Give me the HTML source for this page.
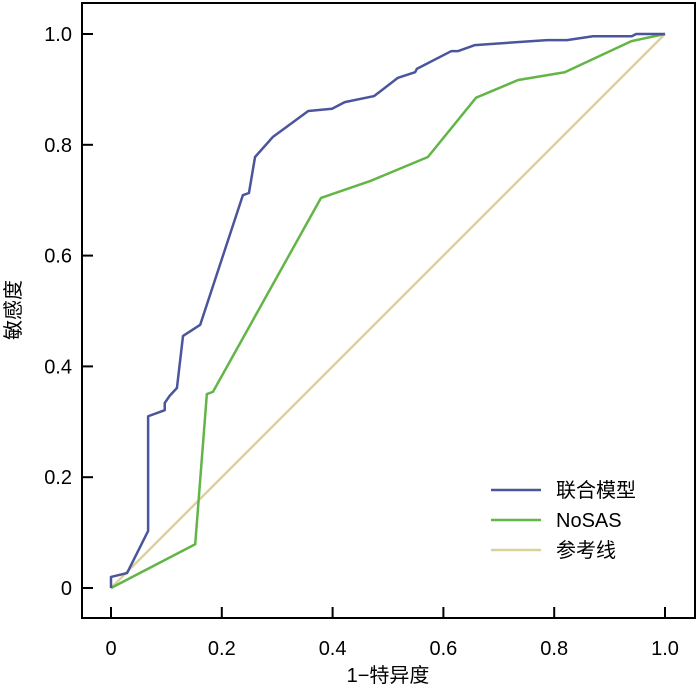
<!DOCTYPE html>
<html><head><meta charset="utf-8"><style>
html,body{margin:0;padding:0;background:#fff;}
svg text{font-family:"Liberation Sans","Noto Sans CJK SC",sans-serif;fill:#000;}
</style></head><body>
<svg id="chart" width="700" height="690" viewBox="0 0 700 690" xmlns="http://www.w3.org/2000/svg">
<rect x="82" y="3" width="613" height="615" fill="none" stroke="#000" stroke-width="2"/>
<g id="axes"></g>
<g id="series"></g>
<text x="388" y="682" font-size="20" text-anchor="middle">1−特异度</text>
<text x="0" y="0" font-size="20" text-anchor="middle" transform="translate(20,310) rotate(-90)">敏感度</text>
<g>
<line x1="491" y1="490" x2="541" y2="490" stroke="#4b559b" stroke-width="2.5"/>
<text x="556" y="497" font-size="20">联合模型</text>
<line x1="491" y1="520" x2="541" y2="520" stroke="#62b546" stroke-width="2.5"/>
<text x="556" y="527" font-size="20">NoSAS</text>
<line x1="491" y1="550" x2="541" y2="550" stroke="#dbd29a" stroke-width="2.5"/>
<text x="556" y="557" font-size="20">参考线</text>
</g>
</svg>
<script>
const xTicks=[0,0.2,0.4,0.6,0.8,1.0];
const xTickLabels=["0","0.2","0.4","0.6","0.8","1.0"];
const yTicks=[0,0.2,0.4,0.6,0.8,1.0];
const yTickLabels=["0","0.2","0.4","0.6","0.8","1.0"];
const combinedFpr=[0,0,0.029,0.067,0.067,0.097,0.097,0.106,0.119,0.13,0.161,0.238,0.249,0.26,0.292,0.356,0.399,0.422,0.475,0.518,0.549,0.552,0.614,0.626,0.657,0.787,0.823,0.87,0.94,0.948,1];
const combinedTpr=[0,0.02,0.027,0.103,0.31,0.321,0.334,0.347,0.361,0.455,0.475,0.709,0.713,0.778,0.814,0.861,0.865,0.877,0.888,0.921,0.931,0.937,0.969,0.969,0.98,0.989,0.989,0.996,0.996,1,1];
const nosasFpr=[0,0.152,0.173,0.184,0.379,0.469,0.572,0.659,0.735,0.819,0.939,1];
const nosasTpr=[0,0.079,0.35,0.354,0.704,0.735,0.778,0.885,0.917,0.931,0.987,1];
const refFpr=[0,1];
const refTpr=[0,1];
const NS="http://www.w3.org/2000/svg";
function sx(v){return 111+v*554;}
function sy(v){return 588-v*554;}
const axes=document.getElementById('axes');
const series=document.getElementById('series');
function mk(tag,attrs,parent){const e=document.createElementNS(NS,tag);for(const k in attrs)e.setAttribute(k,attrs[k]);parent.appendChild(e);return e;}
xTicks.forEach((t,i)=>{
  const l=mk('line',{x1:sx(t),x2:sx(t),y1:607,y2:618,stroke:'#000','stroke-width':2},axes);
  
  
  const tx=mk('text',{x:sx(t),y:655,'font-size':20,'text-anchor':'middle'},axes);
  tx.textContent=xTickLabels[i];
  
  
});
yTicks.forEach((t,i)=>{
  const l=mk('line',{x1:82,x2:93,y1:sy(t),y2:sy(t),stroke:'#000','stroke-width':2},axes);
  
  
  const tx=mk('text',{x:72,y:sy(t)+7,'font-size':20,'text-anchor':'end'},axes);
  tx.textContent=yTickLabels[i];
  
  
});
function line(xs,ys,color,name){
  const p=mk('polyline',{points:xs.map((x,i)=>sx(x)+','+sy(ys[i])).join(' '),fill:'none',stroke:color,'stroke-width':2.5,'stroke-linejoin':'round'},series);
  
  
}
line(refFpr,refTpr,'#dbd29a','reference-line');
line(nosasFpr,nosasTpr,'#62b546','nosas-roc-curve');
line(combinedFpr,combinedTpr,'#4b559b','combined-model-roc-curve');
</script>
</body></html>
